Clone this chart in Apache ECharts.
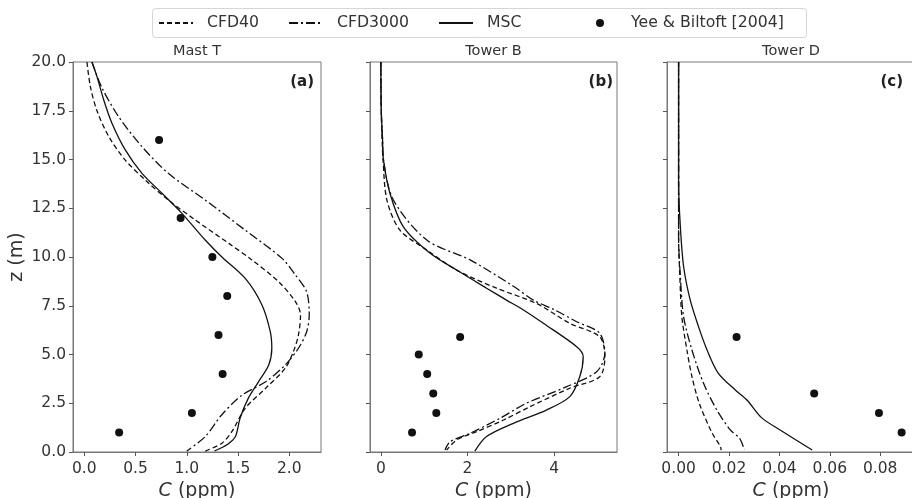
<!DOCTYPE html>
<html>
<head>
<meta charset="utf-8">
<script src="https://cdn.jsdelivr.net/npm/echarts@6/dist/echarts.min.js"></script>
<style>
  html, body { margin: 0; padding: 0; background: #fff; }
  #chart { width: 912px; height: 498px; }
</style>
</head>
<body>
<div id="chart"></div>
<script>
// [C, z] pairs, top to bottom
var mastT_CFD40 = [[0.026,20],[0.06,18.73],[0.124,17.5],[0.24,16.17],[0.40,14.97],[0.595,13.95],[0.82,12.92],[1.083,11.9],[1.41,10.7],[1.636,9.85],[1.897,8.73],[2.06,7.71],[2.11,7.03],[2.09,6.0],[2.04,5.14],[1.96,4.29],[1.77,3.27],[1.57,2.24],[1.44,1.04],[1.34,0.44],[1.18,0.05]];
var mastT_CFD3000 = [[0.075,20],[0.17,18.7],[0.335,17.2],[0.563,15.66],[0.82,14.29],[1.18,12.92],[1.57,11.38],[1.93,9.93],[2.06,9.08],[2.17,8.22],[2.195,7.03],[2.17,6.17],[2.09,5.32],[1.96,4.46],[1.77,3.6],[1.54,2.92],[1.34,1.9],[1.18,0.79],[1.0,0.05]];
var mastT_MSC = [[0.075,20],[0.124,19.25],[0.19,18.05],[0.27,16.86],[0.40,15.49],[0.563,14.29],[0.758,13.27],[0.953,12.24],[1.18,10.87],[1.343,10.0],[1.571,8.9],[1.734,7.54],[1.815,6.17],[1.83,5.32],[1.80,4.46],[1.70,3.6],[1.60,2.75],[1.52,1.73],[1.475,0.79],[1.40,0.4],[1.27,0.05]];
var mastT_obs = [[0.73,16],[0.94,12],[1.25,10],[1.395,8],[1.31,6],[1.35,4],[1.05,2],[0.34,1]];

var towerB_CFD40 = [[0,20],[0.01,17.5],[0.03,16],[0.05,15],[0.14,12.92],[0.44,11.38],[1.06,10.36],[1.75,9.33],[2.67,8.4],[3.59,7.62],[4.36,6.6],[5.05,5.91],[5.17,4.89],[5.05,3.86],[4.36,3.27],[3.44,2.32],[2.83,1.64],[2.21,1.04],[1.75,0.62],[1.52,0.1]];
var towerB_CFD3000 = [[0,20],[0.01,17.5],[0.04,16],[0.06,15],[0.29,12.92],[1.06,10.87],[2.06,9.85],[3.06,8.5],[3.52,7.79],[4.0,7.3],[4.52,6.68],[5.05,6.09],[5.17,5.06],[4.98,4.12],[4.29,3.35],[3.36,2.5],[2.75,1.73],[2.06,0.96],[1.60,0.53],[1.48,0.1]];
var towerB_MSC = [[0,20],[0.01,17.5],[0.04,16],[0.06,15],[0.21,13.27],[0.52,11.55],[1.14,10.19],[1.75,9.33],[2.44,8.4],[2.90,7.79],[3.29,7.28],[3.75,6.6],[4.52,5.4],[4.67,4.89],[4.59,3.86],[4.36,2.84],[3.82,2.15],[3.06,1.47],[2.44,0.79],[2.17,0.05]];
var towerB_obs = [[1.83,5.9],[0.875,5],[1.07,4],[1.21,3],[1.28,2],[0.72,1]];

var towerD_CFD40 = [[0,20],[0,11],[0.0005,9],[0.0013,6.94],[0.0033,5.23],[0.0053,3.86],[0.0082,2.5],[0.0132,1.0],[0.0165,0.3],[0.0169,0.1]];
var towerD_CFD3000 = [[0,20],[0,11],[0.0007,9],[0.002,6.94],[0.0053,5.23],[0.0099,3.52],[0.0152,2.15],[0.0205,1.13],[0.0242,0.7],[0.0261,0.1]];
var towerD_MSC = [[0,20],[0,13.8],[0.0007,11.55],[0.002,9.5],[0.0046,7.8],[0.0079,6.43],[0.0113,5.23],[0.0157,4.05],[0.0225,3.18],[0.0271,2.67],[0.033,1.75],[0.0403,1.13],[0.053,0.1]];
var towerD_obs = [[0.023,5.9],[0.0538,3],[0.0795,2],[0.0885,1]];

var panelTitles = ['Mast T', 'Tower B', 'Tower D'];
var panelTags = ['(a)', '(b)', '(c)'];
var xTicksA = [0, 0.5, 1.0, 1.5, 2.0];
var xTicksB = [0, 2, 4];
var xTicksC = [0, 0.02, 0.04, 0.06, 0.08];

var FONT = 'DejaVu Sans';
var TXT = '#333';
var AX = '#777';
var dashed = [5, 3];
var dashDot = [9, 3, 2, 3];

var grids = [
  { left: 73, top: 62, width: 248, height: 390 },
  { left: 370, top: 62, width: 247, height: 390 },
  { left: 667, top: 62, width: 248, height: 390 }
];
grids.forEach(function (g) {
  g.show = true; g.borderColor = AX; g.borderWidth = 1; g.backgroundColor = 'transparent';
  g.containLabel = false; g.outerBoundsMode = 'none';
});

function xAxis(i, min, max, ticks, digits) {
  return {
    type: 'value', gridIndex: i, min: min, max: max,
    axisLine: { show: true, onZero: false, lineStyle: { color: AX, width: 1 } },
    axisTick: { show: true, length: 4, customValues: ticks, lineStyle: { color: '#555' } },
    axisLabel: {
      customValues: ticks, margin: 9, color: TXT, fontSize: 15.5, fontFamily: FONT,
      formatter: function (v) { return v.toFixed(digits); }
    },
    splitLine: { show: false },
    name: '{i|C} (ppm)', nameLocation: 'middle', nameGap: 25,
    nameTextStyle: {
      color: TXT, fontSize: 19, fontFamily: FONT,
      rich: { i: { fontStyle: 'italic', fontSize: 19, fontFamily: FONT, color: TXT } }
    }
  };
}

function yAxis(i, labels) {
  var ax = {
    type: 'value', gridIndex: i, min: 0, max: 20, interval: 2.5,
    axisLine: { show: true, onZero: false, lineStyle: { color: AX, width: 1 } },
    axisTick: { show: true, length: 4, lineStyle: { color: '#555' } },
    axisLabel: {
      show: labels, margin: 7, color: TXT, fontSize: 15.5, fontFamily: FONT,
      formatter: function (v) { return v.toFixed(1); }
    },
    splitLine: { show: false }
  };
  if (labels) {
    ax.name = 'z (m)';
    ax.nameLocation = 'middle';
    ax.nameGap = 46;
    ax.nameTextStyle = { color: TXT, fontSize: 19, fontFamily: FONT };
  }
  return ax;
}

function lineSeries(name, data, i, type) {
  return {
    name: name, type: 'line', data: data, xAxisIndex: i, yAxisIndex: i,
    symbol: 'none', smooth: 0.3, color: '#111',
    lineStyle: { color: '#111', width: 1.3, type: type }
  };
}
function dotSeries(data, i) {
  return {
    name: 'Yee & Biltoft [2004]', type: 'scatter', data: data, xAxisIndex: i, yAxisIndex: i,
    symbol: 'circle', symbolSize: 8, color: '#111', itemStyle: { color: '#111', opacity: 1 }
  };
}

var series = [];
[[mastT_CFD40, mastT_CFD3000, mastT_MSC, mastT_obs],
 [towerB_CFD40, towerB_CFD3000, towerB_MSC, towerB_obs],
 [towerD_CFD40, towerD_CFD3000, towerD_MSC, towerD_obs]].forEach(function (p, i) {
  series.push(lineSeries('CFD40', p[0], i, dashed));
  series.push(lineSeries('CFD3000', p[1], i, dashDot));
  series.push(lineSeries('MSC', p[2], i, 'solid'));
  series.push(dotSeries(p[3], i));
});

function legendItem(name, left, h, isLine) {
  var lg = {
    data: [name], left: left, top: 15, padding: 0, orient: 'horizontal',
    itemWidth: 34, itemHeight: h, selectedMode: false,
    textStyle: { color: TXT, fontSize: 15.7, fontFamily: FONT, padding: [0, 0, 0, 9] }
  };
  if (isLine) lg.itemStyle = { opacity: 0 };
  return lg;
}

var centers = grids.map(function (g) { return g.left + g.width / 2; });
var tagX = [314, 613, 903];

var chart = echarts.init(document.getElementById('chart'), null, { renderer: 'canvas' });
chart.setOption({
  animation: false,
  backgroundColor: '#fff',
  textStyle: { fontFamily: FONT },
  grid: grids,
  xAxis: [xAxis(0, -0.11, 2.31, xTicksA, 1), xAxis(1, -0.25, 5.45, xTicksB, 0), xAxis(2, -0.0046, 0.0938, xTicksC, 2)],
  yAxis: [yAxis(0, true), yAxis(1, false), yAxis(2, false)],
  title: panelTitles.map(function (t, i) {
    return {
      text: t, left: centers[i], textAlign: 'center', top: 44, padding: 0,
      textStyle: { color: TXT, fontSize: 14.5, fontWeight: 'normal', fontFamily: FONT }
    };
  }),
  legend: [
    legendItem('CFD40', 158, 14, true),
    legendItem('CFD3000', 288, 14, true),
    legendItem('MSC', 438, 14, true),
    legendItem('Yee & Biltoft [2004]', 596, 8, false)
  ],
  graphic: [
    { type: 'rect', z: -1, shape: { x: 152.5, y: 8.5, width: 654, height: 29, r: 3 },
      style: { fill: '#fff', stroke: '#d6d6d6', lineWidth: 1 } }
  ].concat(panelTags.map(function (t, i) {
    return {
      type: 'text', x: tagX[i], y: 82, z: 10,
      style: { text: t, fill: '#222', font: 'bold 15px "DejaVu Sans"', textAlign: 'right', textVerticalAlign: 'middle' }
    };
  })),
  series: series
});
</script>
</body>
</html>
